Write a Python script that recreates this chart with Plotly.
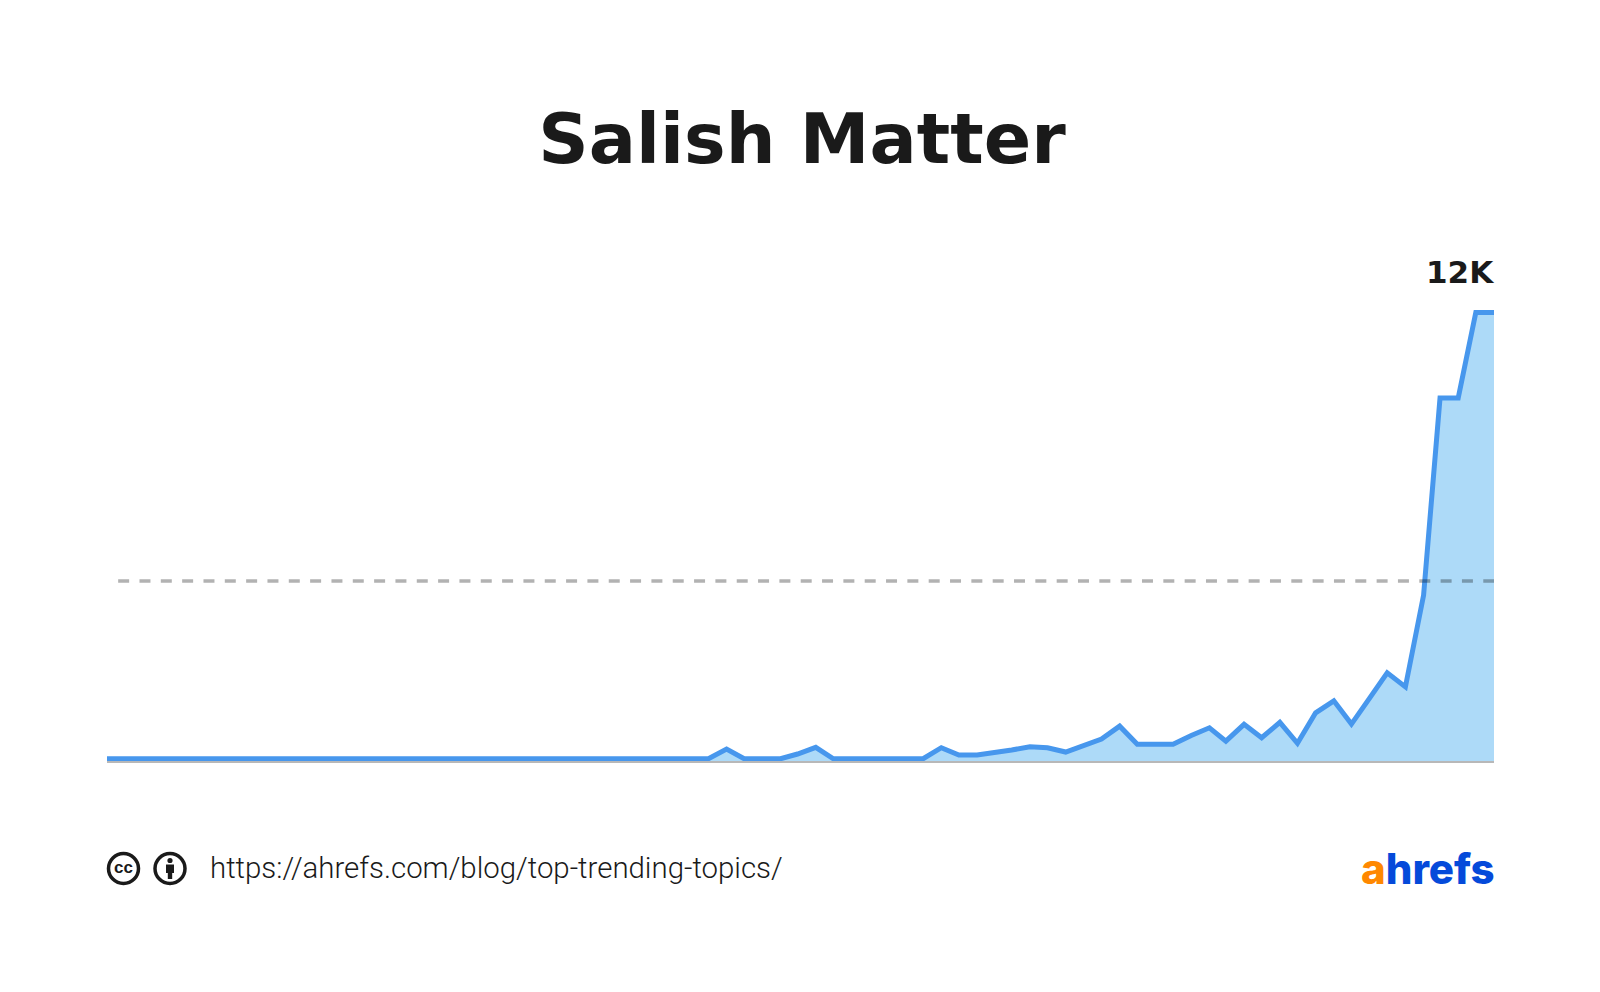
import plotly.graph_objects as go
import pandas as pd

title_text = "Salish Matter"
peak_label = "12K"
source_url = "https://ahrefs.com/blog/top-trending-topics/"

months = pd.date_range("2016-12-01", "2023-06-01", freq="MS").strftime("%Y-%m-%d").tolist()
volume = [60] * 34 + [
    60, 320, 60, 60, 60, 187, 366, 60, 60, 60, 60, 60, 60, 355, 160, 160, 213, 293, 383, 355,
    240, 413, 588, 933, 450, 450, 450, 681, 889, 533, 980, 623, 1033, 473, 1290, 1610, 988,
    1683, 2358, 1983, 4435, 9715, 9715, 12000, 12000,
]
reference_level = [4817, 4817]
reference_dates = ["2016-12-29", "2023-06-01"]
view_start = "2016-12-10"
view_end = months[-1]

W, H = 1600, 992
L, R, T, B = 107, 106, 262, 231
def px(x): return (x - L) / (W - L - R)
def py(y): return (H - B - y) / (H - T - B)

INK = "#1a1a1a"

fig = go.Figure()
fig.add_trace(go.Scatter(
    x=months, y=volume, mode="lines", fill="tozeroy", fillcolor="#ADDAF8",
    line=dict(color="#4797ED", width=5, shape="linear"), hoverinfo="skip",
))
fig.add_trace(go.Scatter(
    x=reference_dates, y=reference_level, mode="lines",
    line=dict(color="rgba(0,0,0,0.3)", width=3.5, dash="11px,10.33px"), hoverinfo="skip",
))

shapes = []
def circle(cx, cy, r, line_w=0, fill="rgba(0,0,0,0)", line=INK):
    shapes.append(dict(type="circle", xref="paper", yref="paper",
                       x0=px(cx - r), x1=px(cx + r), y0=py(cy + r), y1=py(cy - r),
                       line=dict(color=line, width=line_w), fillcolor=fill, layer="above"))
def rect(x0, y0, x1, y1):
    shapes.append(dict(type="rect", xref="paper", yref="paper", x0=px(x0), x1=px(x1),
                       y0=py(y1), y1=py(y0), line=dict(width=0), fillcolor=INK, layer="above"))
circle(123.5, 868.5, 15, 3.5)
circle(170, 868.5, 15, 3.5)
circle(170, 860.5, 2.6, 0, INK)
rect(166, 864.5, 174, 873)
rect(167.8, 873, 172.2, 879)

annotations = [
    dict(text=peak_label, xref="paper", yref="paper", x=px(1496), y=py(272), xanchor="right",
         yanchor="middle", showarrow=False, font=dict(family="DejaVu Sans", size=31, color=INK, weight=700)),
    dict(text="cc", xref="paper", yref="paper", x=px(123.5), y=py(867.5), xanchor="center",
         yanchor="middle", showarrow=False, font=dict(family="Liberation Sans", size=17, color=INK, weight=700)),
    dict(text=source_url, xref="paper", yref="paper", x=px(208), y=py(868), xanchor="left",
         yanchor="middle", showarrow=False, font=dict(family="Roboto", size=29.4, color=INK, weight=300)),
    dict(text='<span style="color:#FF8800">a</span>hrefs', xref="paper", yref="paper", x=px(1497),
         y=py(868), xanchor="right", yanchor="middle", showarrow=False,
         font=dict(family="Inter", size=42, color="#054ADA", weight=800)),
]

fig.update_layout(
    width=W, height=H, margin=dict(l=L, r=R, t=T, b=B),
    paper_bgcolor="white", plot_bgcolor="white", showlegend=False,
    title=dict(text=title_text, x=802 / W, xanchor="center", xref="container",
               y=1 - 138 / H, yanchor="middle", yref="container",
               font=dict(family="DejaVu Sans", size=70, color=INK, weight=700)),
    xaxis=dict(type="date", range=[view_start, view_end], showgrid=False, showticklabels=False,
               ticks="", zeroline=False, showline=True, linecolor="#B8B8B8", linewidth=2),
    yaxis=dict(range=[0, 13352], showgrid=False, showticklabels=False, ticks="", zeroline=False,
               showline=False),
    shapes=shapes, annotations=annotations,
)
fig.write_html("out.html", config={"displayModeBar": False},
               post_script="document.body.style.margin='0';document.body.style.overflow='hidden';")
